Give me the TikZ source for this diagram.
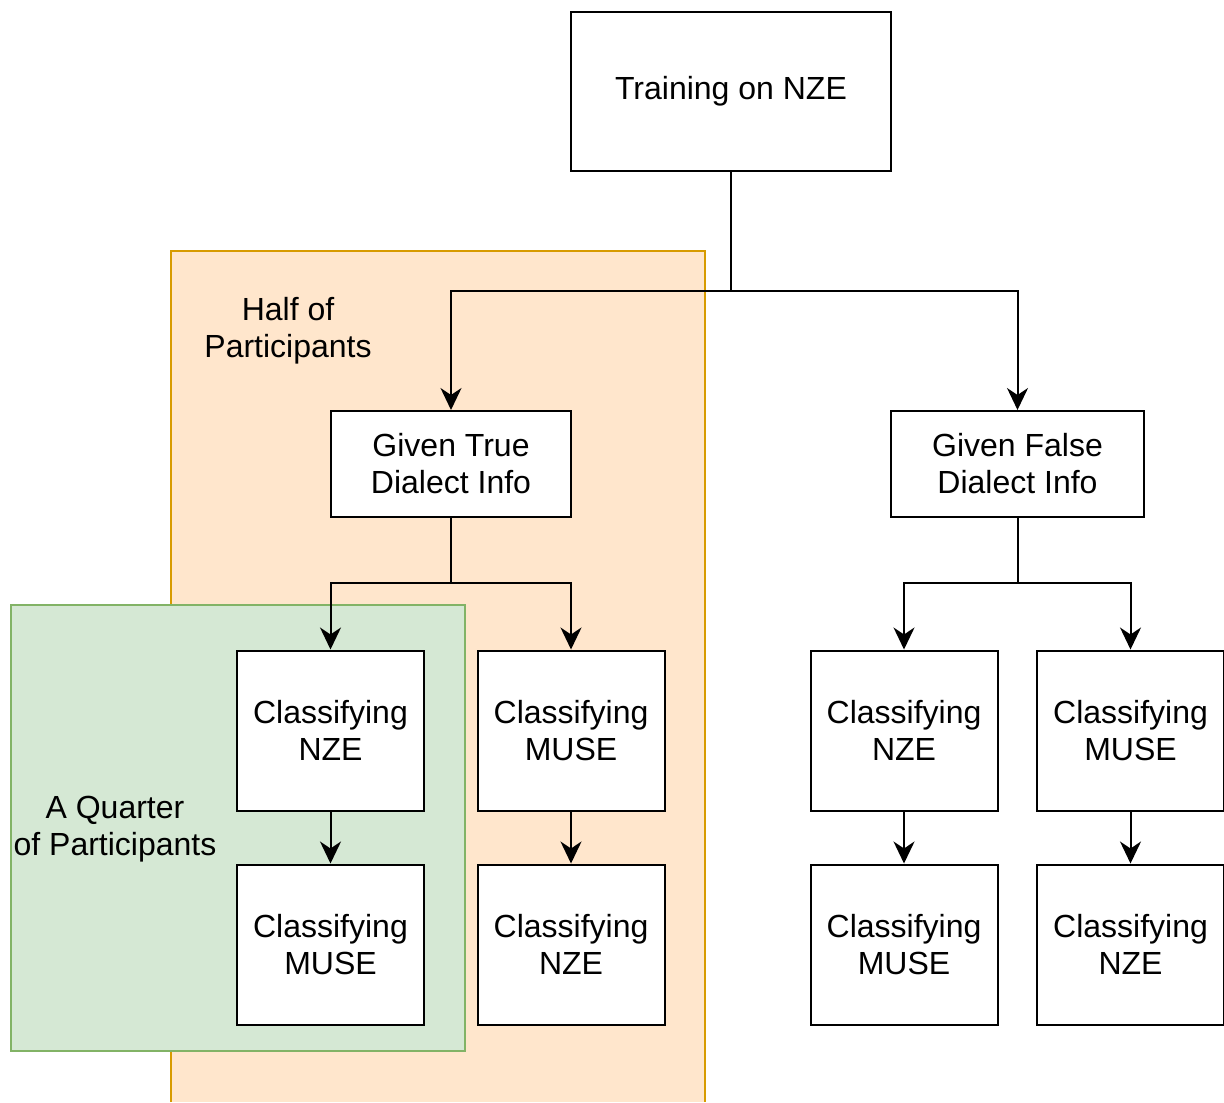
\documentclass[tikz,border=0pt]{standalone}
\usepackage{fontspec}
\setmainfont{Liberation Sans}
\definecolor{halffill}{HTML}{FFE6CC}
\definecolor{halfdraw}{HTML}{D79B00}
\definecolor{quarterfill}{HTML}{D5E8D4}
\definecolor{quarterdraw}{HTML}{82B366}
\usetikzlibrary{arrows.meta,positioning}

\begin{document}
\begin{tikzpicture}[x=0.5pt,y=-0.5pt,node distance=26pt]
		\tikzstyle{stagebox}=[rectangle,draw=black,line width=1pt,fill=white,
		inner sep=0pt,align=center,font=\fontsize{16}{18.5}\selectfont]
		\tikzstyle{classbox}=[stagebox,minimum width=93.5pt,minimum height=80pt]
		\tikzstyle{grouplabel}=[align=center,font=\fontsize{16}{18.5}\selectfont]
		\tikzstyle{flow}=[-{Stealth[length=11pt,width=10.5pt,inset=3.5pt]},line width=1pt]
		\useasboundingbox (0,0) rectangle (1224,1102);
		% participant groups
		\fill[halffill] (171,251) rectangle (705,1102);
		\draw[halfdraw,line width=1pt] (171,1102) -- (171,251) -- (705,251) -- (705,1102);
		\draw[quarterdraw,fill=quarterfill,line width=1pt] (11,605) rectangle (465,1051);
		\node[grouplabel] (halflbl) at (288,331) {Half of\\Participants};
		\node[grouplabel] (quarterlbl) at (115,829) {A Quarter\\of Participants};
		% boxes
		\node[stagebox,minimum width=160pt,minimum height=79.5pt] (train) at (731,91.5) {Training on NZE};
		\node[stagebox,minimum width=120pt,minimum height=53pt] (truebox) at (451,464) {Given True\\Dialect Info};
		\node[stagebox,minimum width=126.5pt,minimum height=53pt] (falsebox) at (1017.5,464) {Given False\\Dialect Info};
		\node[classbox] (tnze)  at (330.5,730.5) {Classifying\\NZE};
		\node[classbox,below=of tnze]  (tnzeb)  {Classifying\\MUSE};
		\node[classbox] (tmuse) at (571,730.5) {Classifying\\MUSE};
		\node[classbox,below=of tmuse] (tmuseb) {Classifying\\NZE};
		\node[classbox] (fnze)  at (904,730.5) {Classifying\\NZE};
		\node[classbox,below=of fnze]  (fnzeb)  {Classifying\\MUSE};
		\node[classbox] (fmuse) at (1130.5,730.5) {Classifying\\MUSE};
		\node[classbox,below=of fmuse] (fmuseb) {Classifying\\NZE};
		% connectors
		\coordinate (lvl1) at (0,291);
		\coordinate (lvl2) at (0,583);
		\coordinate (split0) at (train.south |- lvl1);
		\coordinate (split1) at (truebox.south |- lvl2);
		\coordinate (split2) at (falsebox.south |- lvl2);
		\draw[line width=1pt] (train) -- (split0);
		\draw[flow] (split0) -| (truebox);
		\draw[flow] (split0) -| (falsebox);
		\draw[line width=1pt] (truebox) -- (split1);
		\draw[flow] (split1) -| (tnze);
		\draw[flow] (split1) -| (tmuse);
		\draw[line width=1pt] (falsebox) -- (split2);
		\draw[flow] (split2) -| (fnze);
		\draw[flow] (split2) -| (fmuse);
		\draw[flow] (tnze) -- (tnzeb);
		\draw[flow] (tmuse) -- (tmuseb);
		\draw[flow] (fnze) -- (fnzeb);
		\draw[flow] (fmuse) -- (fmuseb);
	\end{tikzpicture}
\end{document}
